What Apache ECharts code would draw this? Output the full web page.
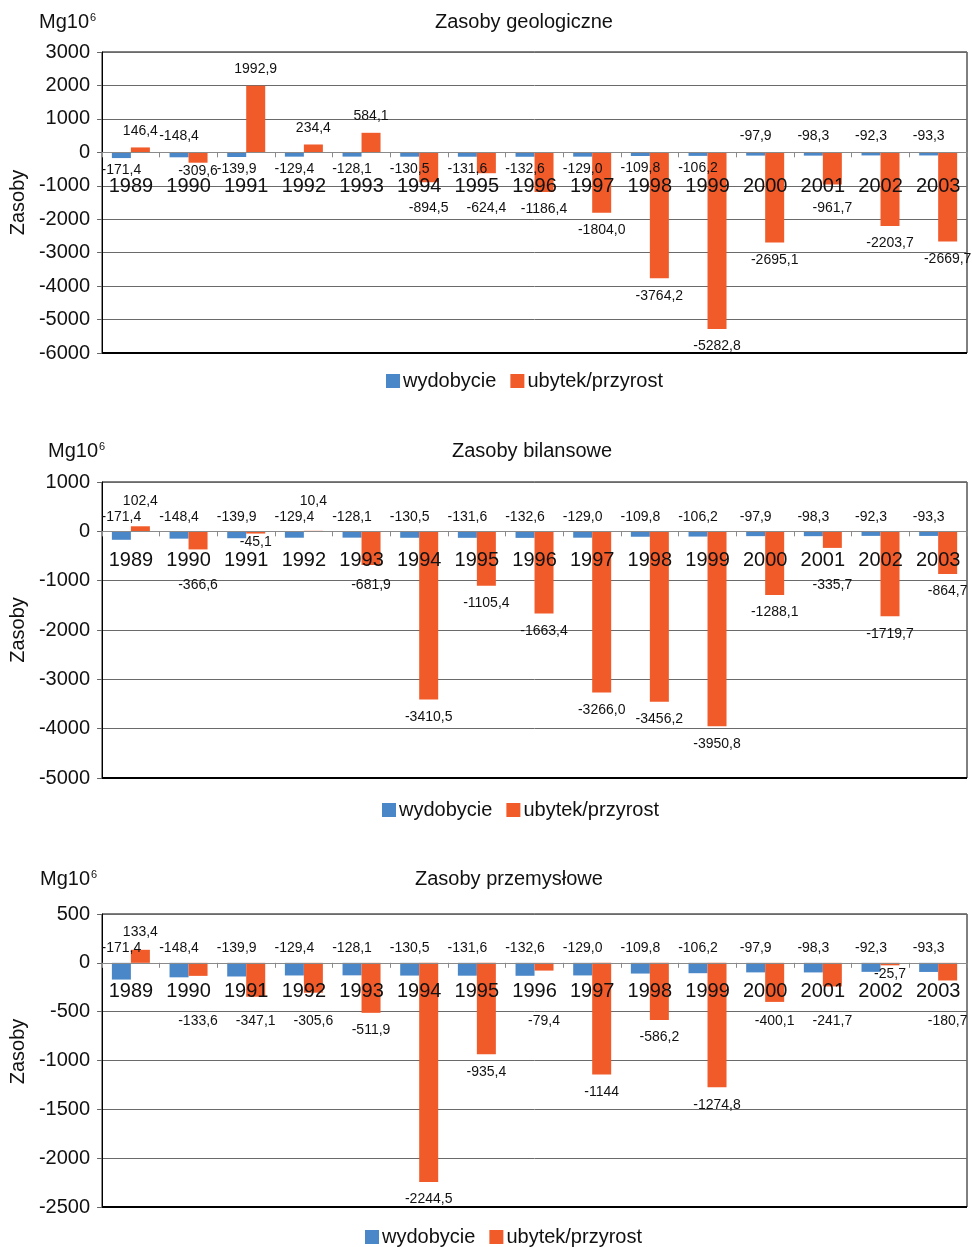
<!DOCTYPE html>
<html>
<head>
<meta charset="utf-8">
<title>Zasoby</title>
<script src="https://cdn.jsdelivr.net/npm/echarts@6/dist/echarts.min.js"></script>
<style>
  html, body { margin: 0; padding: 0; background: #ffffff; }
  #chart { width: 972px; height: 1247px; }
</style>
</head>
<body>
<div id="chart"></div>
<script>
// Years on the category axis
const years = ['1989', '1990', '1991', '1992', '1993', '1994', '1995', '1996',
               '1997', '1998', '1999', '2000', '2001', '2002', '2003'];

// Extraction (same in all three panels), Mg10^6, written as labelled
const wydobycie = ['-171,4', '-148,4', '-139,9', '-129,4', '-128,1', '-130,5', '-131,6', '-132,6',
                   '-129,0', '-109,8', '-106,2', '-97,9', '-98,3', '-92,3', '-93,3'];

// Loss / gain of resources per panel
const geologiczne = ['146,4', '-309,6', '1992,9', '234,4', '584,1', '-894,5', '-624,4', '-1186,4',
                     '-1804,0', '-3764,2', '-5282,8', '-2695,1', '-961,7', '-2203,7', '-2669,7'];
const bilansowe = ['102,4', '-366,6', '-45,1', '10,4', '-681,9', '-3410,5', '-1105,4', '-1663,4',
                   '-3266,0', '-3456,2', '-3950,8', '-1288,1', '-335,7', '-1719,7', '-864,7'];
const przemyslowe = ['133,4', '-133,6', '-347,1', '-305,6', '-511,9', '-2244,5', '-935,4', '-79,4',
                     '-1144', '-586,2', '-1274,8', '-400,1', '-241,7', '-25,7', '-180,7'];

// Value-axis ticks per panel
const geoTicks = [-6000, -5000, -4000, -3000, -2000, -1000, 0, 1000, 2000, 3000];
const bilTicks = [-5000, -4000, -3000, -2000, -1000, 0, 1000];
const przTicks = [-2500, -2000, -1500, -1000, -500, 0, 500];

const titles = ['Zasoby geologiczne', 'Zasoby bilansowe', 'Zasoby przemysłowe'];
const seriesNames = ['wydobycie', 'ubytek/przyrost'];
const unitText = 'Mg10{sup|6}';
const axisName = 'Zasoby';

// ---- layout and style (pixels) ----
const frames = [
  { top: 52, bottom: 353, left: 98, right: 967, titleX: 435, titleY: 12, unitX: 39, unitY: 12,
    legendX: 386, legendY: 371, catMargin: 24, nameGap: 68, namePad: 0 },
  { top: 482, bottom: 778, left: 101, right: 967, titleX: 452, titleY: 441, unitX: 48, unitY: 441,
    legendX: 382, legendY: 800, catMargin: 19, nameGap: 72, namePad: 0 },
  { top: 914, bottom: 1207, left: 100, right: 967, titleX: 415, titleY: 869, unitX: 40, unitY: 869,
    legendX: 365, legendY: 1227, catMargin: 18.5, nameGap: 71, namePad: 18 }
];
// how value labels sit around the bars of each panel
const labelRules = [
  { blueBelowOver: 100, blueGap: 9.5, blueBelowGap: 5.5, rise: 0, drop: 55, nearEnd: 15 },
  { blueBelowOver: Infinity, blueGap: 7.5, blueBelowGap: 5.5, rise: 31, drop: 53, nearEnd: 5 },
  { blueBelowOver: Infinity, blueGap: 7.5, blueBelowGap: 5.5, rise: 31, drop: 58, nearEnd: 5 }
];

const FONT = '"Liberation Sans", Arial, sans-serif';
const BLUE = '#4a87c8';
const ORANGE = '#f15a29';
const INK = '#111111';
const BIG = 20;

function num(s) { return parseFloat(s.replace(',', '.')); }

const panelValues = [geologiczne, bilansowe, przemyslowe];
const panelTicks = [geoTicks, bilTicks, przTicks];

const grid = [], xAxis = [], yAxis = [], series = [], title = [], legend = [];

panelValues.forEach((values, i) => {
  const f = frames[i];
  const ticks = panelTicks[i];
  const min = ticks[0], max = ticks[ticks.length - 1];
  const step = ticks[1] - ticks[0];
  const rule = labelRules[i];
  const pxPerUnit = (f.bottom - f.top) / (max - min);
  // year labels hang just under the zero line, not under the plot frame
  const zeroToBottom = -min * pxPerUnit;

  grid.push({
    left: f.left, top: f.top, width: f.right - f.left, height: f.bottom - f.top,
    show: true, borderColor: '#000', borderWidth: 1, backgroundColor: 'transparent',
    containLabel: false
  });

  // drawn above the bars so the years stay readable across them
  xAxis.push({
    type: 'category', gridIndex: i, data: years, position: 'bottom', z: 5,
    axisLine: { onZero: true, lineStyle: { color: '#8a8a8a', width: 1.2 } },
    axisTick: { show: true, length: 5, lineStyle: { color: '#8a8a8a' } },
    axisLabel: { fontSize: BIG, color: INK, fontFamily: FONT, margin: f.catMargin - zeroToBottom, interval: 0 },
    splitLine: { show: false }
  });

  yAxis.push({
    type: 'value', gridIndex: i, min: min, max: max, interval: step,
    name: axisName, nameLocation: 'middle', nameGap: f.nameGap,
    nameTextStyle: { fontSize: BIG, color: INK, fontFamily: FONT, padding: [0, 0, 0, f.namePad] },
    axisLine: { show: true, lineStyle: { color: '#000', width: 1 } },
    axisTick: { show: true, length: 5, lineStyle: { color: '#666' } },
    axisLabel: { fontSize: BIG, color: INK, fontFamily: FONT, margin: 12, formatter: v => String(v) },
    splitLine: { show: true, lineStyle: { color: '#6a6a6a', width: 1 } }
  });

  const orangeNums = values.map(num);

  const orange = orangeNums.map(v => {
    const len = Math.abs(v) * pxPerUnit;
    if (v >= 0) {
      const off = Math.max(17, rule.rise - len);
      return { value: v, label: { position: 'top', distance: off - 7.5 }, nearEnd: false };
    }
    const near = len < rule.nearEnd;
    const off = near ? 8 : Math.max(17, rule.drop - len);
    return { value: v, label: { position: 'bottom', distance: off - 6.5 }, nearEnd: near };
  });

  // extraction labels go under the bar unless that spot is taken
  const blue = wydobycie.map((s, k) => {
    const v = num(s);
    const below = Math.abs(v) >= rule.blueBelowOver && !orange[k].nearEnd;
    return {
      value: v,
      label: below
        ? { position: 'bottom', distance: rule.blueBelowGap }
        : { position: 'top', distance: rule.blueGap }
    };
  });
  orange.forEach(o => { delete o.nearEnd; });

  const labelBase = { show: true, fontSize: 14, color: INK, fontFamily: FONT };

  series.push({
    name: seriesNames[0], type: 'bar', xAxisIndex: i, yAxisIndex: i,
    data: blue, barWidth: 19, barGap: '0%', itemStyle: { color: BLUE },
    label: Object.assign({}, labelBase, {
      formatter: p => wydobycie[p.dataIndex]
    })
  });
  series.push({
    name: seriesNames[1], type: 'bar', xAxisIndex: i, yAxisIndex: i,
    data: orange, barWidth: 19, barGap: '0%', itemStyle: { color: ORANGE },
    label: Object.assign({}, labelBase, {
      formatter: p => values[p.dataIndex]
    }),
    // heavier baseline along the bottom of the plot
    markLine: {
      silent: true, symbol: 'none', label: { show: false },
      lineStyle: { color: '#000', width: 2, type: 'solid' },
      data: [{ yAxis: min }]
    }
  });

  title.push({
    text: titles[i], left: f.titleX, top: f.titleY, padding: 0,
    textStyle: { fontSize: BIG, fontWeight: 'normal', color: INK, fontFamily: FONT }
  });
  title.push({
    text: unitText, left: f.unitX, top: f.unitY, padding: 0,
    textStyle: {
      fontSize: BIG, fontWeight: 'normal', color: INK, fontFamily: FONT,
      rich: { sup: { fontSize: 11, color: INK, fontFamily: FONT, verticalAlign: 'top', padding: [0, 0, 9, 1] } }
    }
  });

  legend.push({
    data: seriesNames, left: f.legendX, top: f.legendY, padding: 0,
    itemWidth: 14, itemHeight: 14, itemGap: 14, icon: 'rect', selectedMode: false,
    textStyle: { fontSize: BIG, color: INK, fontFamily: FONT, padding: [0, 0, 0, -2] }
  });
});

const chart = echarts.init(document.getElementById('chart'), null, { renderer: 'canvas' });
chart.setOption({
  animation: false,
  backgroundColor: '#ffffff',
  textStyle: { fontFamily: FONT },
  title: title,
  legend: legend,
  grid: grid,
  xAxis: xAxis,
  yAxis: yAxis,
  series: series
});
</script>
</body>
</html>
